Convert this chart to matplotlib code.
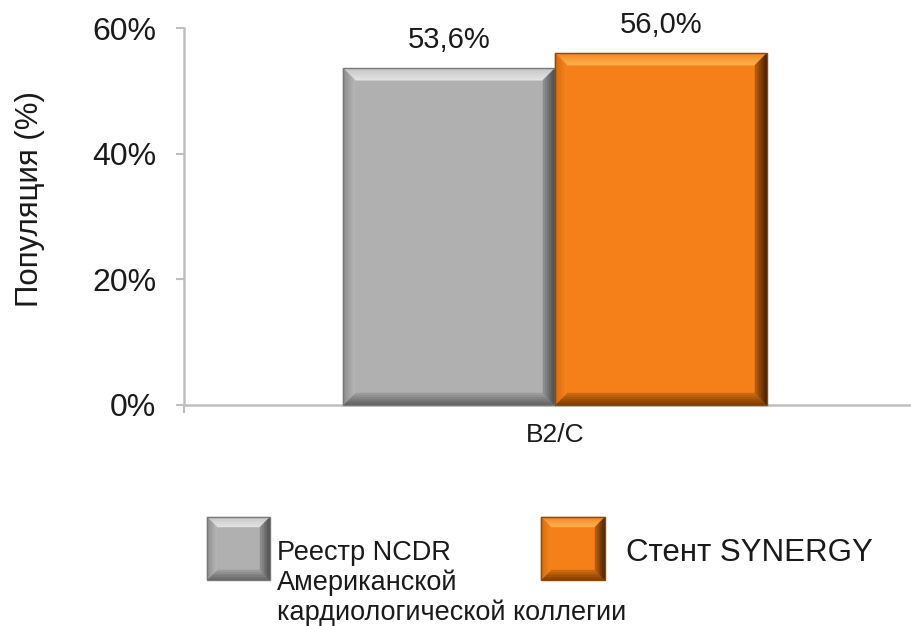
import numpy as np
import matplotlib
matplotlib.use("Agg")
import matplotlib.pyplot as plt
from matplotlib.patches import Polygon
from matplotlib.transforms import IdentityTransform
from matplotlib.colors import to_rgb

plt.rcParams['font.family'] = ['Liberation Sans', 'DejaVu Sans']

# Data
categories = ['B2/C']
series_names = ['Реестр NCDR\nАмериканской\nкардиологической коллегии', 'Стент SYNERGY']
values = [53.6, 56.0]
value_labels = ['53,6%', '56,0%']
y_ticks = [0, 20, 40, 60]

# Bevel palettes: face, top (outer, inner), left, right, bottom, border
styles = [
    dict(face='#B0B0B0', top=('#C8C8C8', '#E2E2E2'), left=('#8E8E8E', '#B4B4B4'),
         right=('#4E4E4E', '#8C8C8C'), bottom=('#646464', '#9A9A9A'), edge='#7A7A7A'),
    dict(face='#F58019', top=('#F08A2A', '#FFAE4A'), left=('#D86C0C', '#F4821E'),
         right=('#4A2303', '#B45A0C'), bottom=('#7E3F06', '#C8680F'), edge='#8A4A10'),
]

W, H, DPI = 911, 626, 100
TXT = '#1a1a1a'
fig = plt.figure(figsize=(W / DPI, H / DPI), dpi=DPI)
ax = fig.add_axes([184 / W, (H - 405) / H, 742 / W, 377 / H])

n = len(values)
bar_w = 0.5714
offsets = (np.arange(n) - (n - 1) / 2) * bar_w
cat_x = np.arange(len(categories))

bars = []
for i in range(n):
    b = ax.bar(cat_x + offsets[i], [values[i]], width=bar_w,
               color=styles[i]['face'], linewidth=0, zorder=2)
    bars.append(b[0])
    ax.annotate(value_labels[i], (cat_x[0] + offsets[i], values[i]),
                xytext=(0, 10), textcoords='offset points',
                ha='center', va='bottom', fontsize=21, color=TXT)

ax.set_xlim(-1, 1)
ax.set_ylim(0, 60)
ax.set_yticks(y_ticks)
ax.set_yticklabels([f'{t}%' for t in y_ticks], fontsize=23, color=TXT)
ax.set_xticks(cat_x)
ax.set_xticklabels(categories, fontsize=19, color=TXT)
ax.set_xticks([-1], minor=True)
ax.tick_params(axis='x', which='major', length=0, pad=13)
ax.tick_params(axis='x', which='minor', length=6, width=1.5, color='#BFBFBF', direction='out')
ax.tick_params(axis='y', length=6, width=1.5, color='#BFBFBF', direction='out', pad=14)
for s in ('top', 'right'):
    ax.spines[s].set_visible(False)
for s in ('left', 'bottom'):
    ax.spines[s].set_color('#BFBFBF')
    ax.spines[s].set_linewidth(1.8)


def mix(c1, c2, t):
    a, b = np.array(to_rgb(c1)), np.array(to_rgb(c2))
    return tuple(a + (b - a) * t)


def bevel_box(x0, y0, x1, y1, st, bw=12, steps=6, z=3):
    """Draw bevel bands inside a box given in display pixels (y up)."""
    arts = []
    for k in range(steps):
        t0 = bw * k / steps
        t1 = bw * (k + 1) / steps
        f = k / max(steps - 1, 1)
        sides = {
            'top': [(x0 + t0, y1 - t0), (x1 - t0, y1 - t0), (x1 - t1, y1 - t1), (x0 + t1, y1 - t1)],
            'bottom': [(x0 + t0, y0 + t0), (x1 - t0, y0 + t0), (x1 - t1, y0 + t1), (x0 + t1, y0 + t1)],
            'left': [(x0 + t0, y0 + t0), (x0 + t0, y1 - t0), (x0 + t1, y1 - t1), (x0 + t1, y0 + t1)],
            'right': [(x1 - t0, y0 + t0), (x1 - t0, y1 - t0), (x1 - t1, y1 - t1), (x1 - t1, y0 + t1)],
        }
        for name, pts in sides.items():
            c = mix(st[name][0], st[name][1], f)
            arts.append(Polygon(pts, closed=True, facecolor=c, edgecolor=c, linewidth=0.3,
                                transform=IdentityTransform(), zorder=z, clip_on=False))
    arts.append(Polygon([(x0, y0), (x1, y0), (x1, y1), (x0, y1)], closed=True, fill=False,
                        edgecolor=st['edge'], linewidth=1.0, transform=IdentityTransform(),
                        zorder=z + 1, clip_on=False))
    for a in arts:
        fig.add_artist(a)


# Bevels on the bars, sized in screen pixels from the bars' own extents
for i, bar in enumerate(bars):
    ext = bar.get_extents()
    bevel_box(ext.x0, ext.y0, ext.x1, ext.y1, styles[i], bw=12)


# Legend drawn as bevelled swatches with labels (pixel coords, origin top-left)
def px(x, y):
    return x, H - y


legend_boxes = [(207, 517, 270, 580), (541, 517, 605, 580)]
for i, (lx0, ly0, lx1, ly1) in enumerate(legend_boxes):
    fig.add_artist(Polygon([px(lx0, ly0), px(lx1, ly0), px(lx1, ly1), px(lx0, ly1)], closed=True,
                           facecolor=styles[i]['face'], linewidth=0,
                           transform=IdentityTransform(), zorder=2))
    bevel_box(lx0, H - ly1, lx1, H - ly0, styles[i], bw=10)

fig.text(277 / W, 1 - 540 / H, series_names[0], ha='left', va='top', fontsize=19.5,
         linespacing=1.16, color=TXT)
fig.text(626 / W, 1 - 553 / H, series_names[1], ha='left', va='center', fontsize=22.5,
         color=TXT)

fig.text(30 / W, 1 - 199 / H, 'Популяция (%)', rotation=90, ha='center', va='center',
         fontsize=22.5, color=TXT)

fig.savefig('out.png', dpi=DPI, facecolor='white')
